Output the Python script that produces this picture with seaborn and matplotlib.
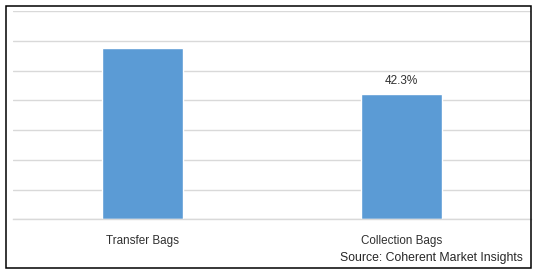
import matplotlib
matplotlib.use("Agg")
import matplotlib.pyplot as plt
import seaborn as sns
import pandas as pd
from matplotlib.patches import Rectangle

categories = ["Transfer Bags", "Collection Bags"]
shares = [57.7, 42.3]
labels = ["", "42.3%"]
source_text = "Source: Coherent Market Insights"

df = pd.DataFrame({"category": categories, "share": shares})

sns.set_theme(style="white")
plt.rcParams['font.family'] = ['Liberation Sans', 'DejaVu Sans']

W, H = 538, 272
fig = plt.figure(figsize=(W / 100, H / 100), dpi=100)
ax = fig.add_axes([13.3 / W, 1 - 219.3 / H, (531 - 13.3) / W, (219.3 - 11.3) / H])

sns.barplot(data=df, x="category", y="share", ax=ax, color="#5B9BD5",
            saturation=1, width=0.315)

ax.set_ylim(0, 70)
ax.set_xlim(-0.5, 1.5)
ax.set_yticks(range(0, 71, 10))
ax.yaxis.grid(True, color="#d9d9d9", linewidth=1.0)
ax.set_axisbelow(True)
ax.set_yticklabels([])
ax.tick_params(axis="y", length=0)
ax.tick_params(axis="x", length=0, pad=11, labelsize=8.4, colors="#303030")
ax.set_xlabel("")
ax.set_ylabel("")
for s in ["top", "right", "left"]:
    ax.spines[s].set_visible(False)
ax.spines["bottom"].set_color("#d9d9d9")
ax.spines["bottom"].set_linewidth(1.0)

for container in ax.containers:
    ax.bar_label(container, labels=labels, padding=5, fontsize=8.5, color="#303030")

fig.text(523 / W, 1 - 258.3 / H, source_text, ha="right", va="center",
         fontsize=8.8, color="#262626")

fig.patches.append(Rectangle((5.5 / W, 1 - 267.5 / H), (531 - 5.5) / W, (267.5 - 5.5) / H,
                             transform=fig.transFigure, fill=False,
                             edgecolor="black", linewidth=1.1))

fig.savefig("out.png", dpi=100, facecolor="white")
